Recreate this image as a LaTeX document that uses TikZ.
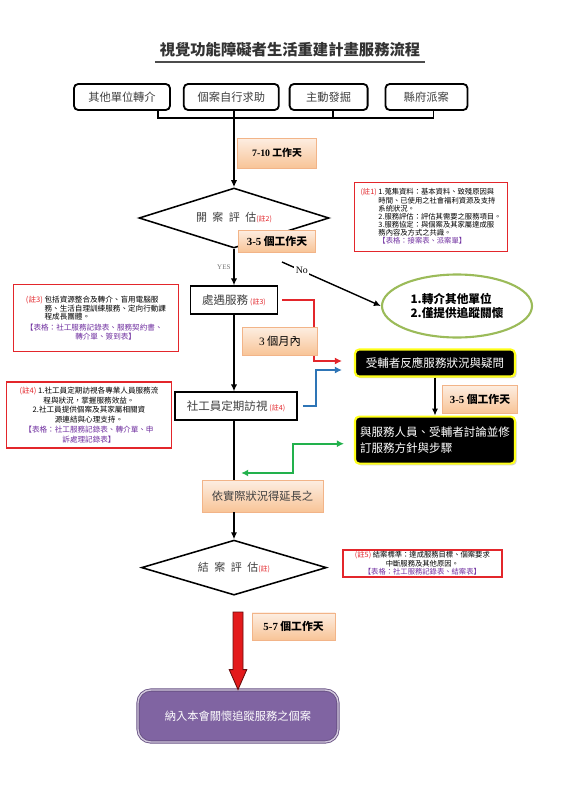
\documentclass[tikz,border=0pt]{standalone}
\usepackage{fontspec}
\setmainfont{Noto Sans CJK TC}
\newfontfamily\latinfont{Liberation Serif}
\usetikzlibrary{arrows.meta,positioning,shapes.geometric,calc,shadows}

\definecolor{notered}{HTML}{E3262B}
\definecolor{formpurple}{HTML}{7030A0}
\definecolor{peachtop}{HTML}{FDEEE2}
\definecolor{peachbot}{HTML}{F8C497}
\definecolor{peachline}{HTML}{F2B488}
\definecolor{glowyellow}{HTML}{FFFF1A}
\definecolor{leafgreen}{HTML}{9BBB59}
\definecolor{caseviolet}{HTML}{8064A2}
\definecolor{linkblue}{HTML}{2E75B6}
\definecolor{linkgreen}{HTML}{22B14C}
\definecolor{inkgray}{HTML}{404040}
\definecolor{alarmred}{HTML}{E31A1C}

\newcommand{\notetag}[1]{\textcolor{notered}{(註#1)}}
\newcommand{\noteindent}[1]{\phantom{\notetag{#1}}\ }
\newcommand{\formline}[1]{\textcolor{formpurple}{#1}}
\newcommand{\lat}[1]{{\latinfont #1}}
\newcommand{\smalltag}[1]{{\color{notered}\fontsize{5}{6}\selectfont(註#1)}}

\tikzset{
  srcbox/.style={
    rectangle, rounded corners=3pt, draw=black, line width=1.3pt,
    fill=white, minimum height=0.65cm, inner sep=2pt,
    font=\fontsize{8}{9}\selectfont, text=inkgray
  },
  stepbox/.style={
    rectangle, draw=black, line width=1.4pt, fill=white,
    minimum height=0.68cm, inner sep=2pt,
    font=\fontsize{8.2}{9}\selectfont, text=inkgray
  },
  decision/.style={
    diamond, draw=black, line width=1.1pt, fill=white, inner sep=0pt,
    font=\fontsize{7.8}{9}\selectfont, text=inkgray
  },
  daybox/.style={
    rectangle, draw=peachline, top color=peachtop, bottom color=peachbot,
    drop shadow={opacity=0.25, shadow xshift=0.7pt, shadow yshift=-0.7pt},
    font=\fontsize{7.7}{9}\selectfont\bfseries, inner sep=2pt
  },
  darkbox/.style={
    rectangle, rounded corners=3pt, draw=glowyellow, line width=1.5pt,
    fill=black, text=white, align=left, inner sep=3pt,
    drop shadow={opacity=0.35, shadow xshift=1.2pt, shadow yshift=-1.2pt},
    font=\fontsize{8.2}{12}\selectfont
  },
  notebox/.style={
    rectangle, draw=notered, line width=1.3pt, fill=white,
    align=left, inner sep=2pt, font=\fontsize{5.2}{5.8}\selectfont
  },
  brk/.style={line width=1.3pt},
  flow/.style={-{Latex[length=5pt, width=4.5pt]}, line width=1pt},
  link/.style={-{Latex[length=5pt, width=5pt]}, line width=1.2pt, color=#1},
  link/.default=notered,
}

\begin{document}
\begin{tikzpicture}[node distance=0.3cm and 0.3cm,
  yesno/.style={font=\latinfont\fontsize{#1}{#1}\selectfont, inner sep=1pt}]
  \useasboundingbox (0,0) rectangle (14.125,-20);

  % Title
  \node[font=\fontsize{10.9}{12}\selectfont\bfseries, text=black!80] (title) at (7.25,-1.25)
    {視覺功能障礙者生活重建計畫服務流程};
  \draw[line width=1.6pt, black!70] (title.south west) -- (title.south east);

  % Sources
  \node[srcbox, minimum width=2.4cm] (src1) at (3.05,-2.425) {其他單位轉介};
  \node[srcbox, minimum width=2.375cm, right=0.3cm of src1] (src2) {個案自行求助};
  \node[srcbox, minimum width=1.95cm, right=0.225cm of src2] (src3) {主動發掘};
  \node[srcbox, minimum width=2.05cm, right=0.4cm of src3] (src4) {縣府派案};
  \coordinate (join) at (5.85,-2.95);
  \draw[brk] ([xshift=0.9cm]src1.south) |- ([xshift=0.175cm]src4.south |- join)
    -- ([xshift=0.175cm]src4.south);
  \draw[brk] (src2.south -| join) -- (join);
  \draw[brk] ([xshift=0.1cm]src3.south) -- ([xshift=0.1cm]src3.south |- join);

  % Intake
  \node[decision, shape aspect=3.17, minimum width=4.75cm, minimum height=1.5cm] (open) at (5.85,-5.45)
    {開\hspace{0.5em}案\hspace{0.5em}評\hspace{0.5em}估\smalltag{2}};
  \node[daybox, minimum width=1.975cm, minimum height=0.75cm, font=\fontsize{7}{8}\selectfont\bfseries] (d710) at (6.925,-3.825)
    {\lat{7-10} 工作天};
  \node[daybox, minimum width=1.925cm, minimum height=0.55cm] (d35a) at (6.925,-6.025)
    {\lat{3-5} 個工作天};
  \draw[flow] (join) -- (open.north);

  \node[notebox, minimum width=3.825cm, minimum height=1.725cm] (note1) at (10.775,-5.425) {%
    \notetag{1}\ 1.蒐集資料：基本資料、致殘原因與\\
    \noteindent{1}時間、已使用之社會福利資源及支持\\
    \noteindent{1}系統狀況。\\
    \noteindent{1}2.服務評估：評估其需要之服務項目。\\
    \noteindent{1}3.服務協定：與個案及其家屬達成服\\
    \noteindent{1}務內容及方式之共識。\\
    \noteindent{1}\formline{【表格：接案表、派案單】}};

  % No branch
  \node[ellipse, draw=leafgreen, line width=1.5pt, minimum width=3.75cm, minimum height=1.575cm,
    align=left, font=\fontsize{8.3}{9.8}\selectfont\bfseries] (help) at (11.425,-7.65)
    {1.轉介其他單位\\2.僅提供追蹤關懷};
  \coordinate (nostart) at (7.05,-6.55);
  \draw[flow] (nostart) -- node[pos=0.2, fill=white, yesno=7] (nolbl) {No} (help.west);

  % Service
  \node[stepbox, minimum width=2.175cm] (treat) at (5.85,-7.5) {處遇服務\,\smalltag{3}};
  \node[stepbox, minimum width=3.05cm] (visit) at (5.9,-10.15) {社工員定期訪視\,\smalltag{4}};
  \draw[flow] (open.south) -- node[left=1pt, yesno=5, text=black!55] (yeslbl) {YES} (treat.north);
  \draw[flow] (treat.south) -- (treat.south |- visit.north);

  \node[notebox, minimum width=4.125cm, minimum height=1.675cm, font=\fontsize{5.4}{6}\selectfont] (note3) at (2.4,-7.95) {%
    \notetag{3}\ 包括資源整合及轉介、盲用電腦服\\
    \noteindent{3}務、生活自理訓練服務、定向行動課\\
    \noteindent{3}程成長團體。\\[2pt]
    \formline{【表格：社工服務記錄表、服務契約書、}\\
    \hspace*{6.5em}\formline{轉介單、簽到表】}};
  \node[notebox, align=center, minimum width=4.125cm, minimum height=1.65cm, font=\fontsize{5.4}{7}\selectfont] (note4) at (2.225,-10.375) {%
    \notetag{4}\ 1.社工員定期訪視各專業人員服務流\\
    程與狀況，掌握服務效益。\\
    2.社工員提供個案及其家屬相關資\\
    源連結與心理支持。\\
    \formline{【表格：社工服務記錄表、轉介單、申}\\
    \formline{訴處理記錄表】}};

  % Feedback loop
  \node[darkbox, minimum width=4cm, minimum height=0.675cm] (feedback) at (10.875,-9.075)
    {受輔者反應服務狀況與疑問};
  \node[darkbox, minimum width=4cm, minimum height=1.175cm, below=0.95cm of feedback] (discuss)
    {與服務人員、受輔者討論並修\\訂服務方針與步驟};
  \node[daybox, minimum width=1.875cm, minimum height=0.7cm] (d35b) at (12.0,-9.975)
    {\lat{3-5} 個工作天};
  \draw[flow, line width=1.2pt] (feedback) -- (discuss);
  \draw[link, shorten <=0.1cm, shorten >=0.3cm] (treat.east) -- ++(0.89,0) |- ([yshift=0.05cm]feedback.west);
  \draw[link=linkblue, shorten <=0.12cm, shorten >=0.3cm] (visit.east) -- ++(0.45,0) |- ([yshift=-0.175cm]feedback.west);
  \coordinate (merge) at (5.85,-11.825);
  \draw[link=linkgreen, {Latex[length=5pt, width=5pt]}-{Latex[length=5pt, width=5pt]}, shorten <=0.18cm, shorten >=0.25cm]
    (merge) -- ++(1.475,0) |- ([yshift=-0.09cm]discuss.west);
  \node[daybox, minimum width=1.875cm, minimum height=0.7cm, font=\fontsize{8}{9}\selectfont] (m3) at (7.0,-8.525)
    {\lat{3} 個月內};

  % Closing
  \node[daybox, minimum width=3.025cm, minimum height=0.8cm, font=\fontsize{8}{9}\selectfont, text=inkgray] (delay) at (6.5625,-12.4)
    {依實際狀況得延長之};
  \node[decision, shape aspect=3.36, minimum width=4.625cm, minimum height=1.375cm] (close) at (5.85,-14.19)
    {結\hspace{0.5em}案\hspace{0.5em}評\hspace{0.5em}估\smalltag{}};
  \draw[line width=1pt] (visit.south -| join) -- (delay.north -| join);
  \draw[flow] (delay.south -| join) -- (close.north);

  \node[notebox, align=center, minimum width=3.975cm, minimum height=0.675cm, inner sep=1pt, font=\fontsize{5.2}{6.1}\selectfont] (note5) at (10.56,-14.09) {%
    \notetag{5}\ 結案標準：達成服務目標、個案要求\\
    中斷服務及其他原因。\\
    \formline{【表格：社工服務記錄表、結案表】}};

  % Follow-up
  \node[rectangle, rounded corners=9pt, fill=caseviolet, draw=caseviolet!80!black,
    double=caseviolet!35!white, double distance=1pt, line width=0.6pt,
    minimum width=5cm, minimum height=1.3cm, text=white, font=\fontsize{8}{9}\selectfont] (final) at (5.95,-17.9)
    {納入本會關懷追蹤服務之個案};
  \node[daybox, minimum width=2.075cm, minimum height=0.675cm] (d57) at (7.34,-15.66)
    {\lat{5-7} 個工作天};
  \coordinate (bigtop) at (5.95,-15.3);
  \draw[fill=alarmred, draw=alarmred!45!black, line width=0.6pt]
    ($(bigtop)+(-0.125,0)$) -- ($(bigtop)+(0.125,0)$) -- ($(final.north)+(0.125,0.5)$)
    -- ($(final.north)+(0.22,0.5)$) -- (final.north) -- ($(final.north)+(-0.22,0.5)$)
    -- ($(final.north)+(-0.125,0.5)$) -- cycle;
\end{tikzpicture}
\end{document}
